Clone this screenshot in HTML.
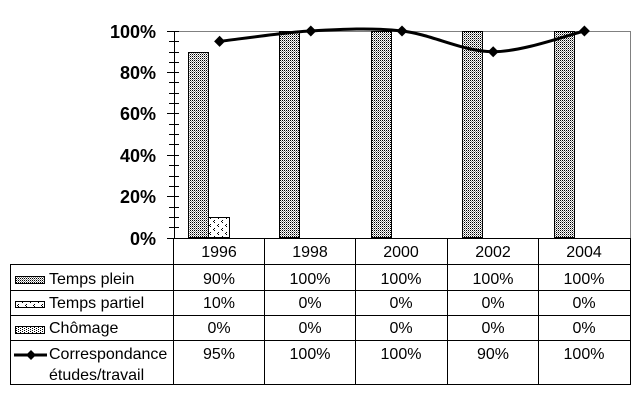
<!DOCTYPE html>
<html>
<head>
<meta charset="utf-8">
<style>
  html,body{margin:0;padding:0;background:#fff;}
  svg{display:block;}
  text{font-family:"Liberation Sans", Arial, sans-serif;}
</style>
</head>
<body>
<svg width="640" height="400" viewBox="0 0 640 400" xmlns="http://www.w3.org/2000/svg">
  <defs>
    <pattern id="pPlein" width="2" height="2" patternUnits="userSpaceOnUse">
      <rect width="2" height="2" fill="#fff"/>
      <rect x="0" y="0" width="1" height="1" fill="#000"/>
      <rect x="1" y="1" width="1" height="1" fill="#909090"/>
    </pattern>
    <pattern id="pPartiel" width="8" height="8" patternUnits="userSpaceOnUse">
      <rect width="8" height="8" fill="#fff"/>
      <rect x="2" y="0" width="1" height="1" fill="#000"/>
      <rect x="1" y="1" width="1" height="1" fill="#000"/>
      <rect x="2" y="2" width="1" height="1" fill="#000"/>
      <rect x="6" y="4" width="1" height="1" fill="#000"/>
      <rect x="5" y="5" width="1" height="1" fill="#000"/>
      <rect x="6" y="6" width="1" height="1" fill="#000"/>
    </pattern>
    <pattern id="pChom" width="4" height="2" patternUnits="userSpaceOnUse">
      <rect width="4" height="2" fill="#fff"/>
      <rect x="0" y="0" width="1" height="1" fill="#000"/>
      <rect x="2" y="1" width="1" height="1" fill="#000"/>
    </pattern>
  </defs>

  <!-- plot area border (gray) -->
  <g shape-rendering="crispEdges">
    <line x1="174" y1="31.5" x2="630" y2="31.5" stroke="#808080" stroke-width="1"/>
    <line x1="630.5" y1="31" x2="630.5" y2="238" stroke="#808080" stroke-width="1"/>
  </g>

  <!-- bars -->
  <g shape-rendering="crispEdges" stroke="#000" stroke-width="1">
    <rect x="188.5" y="52.5" width="20" height="185" fill="url(#pPlein)"/>
    <rect x="208.5" y="217.5" width="21" height="20" fill="url(#pPartiel)"/>
    <rect x="279.5" y="31.5" width="20" height="206" fill="url(#pPlein)"/>
    <rect x="371.5" y="31.5" width="20" height="206" fill="url(#pPlein)"/>
    <rect x="462.5" y="31.5" width="20" height="206" fill="url(#pPlein)"/>
    <rect x="554.5" y="31.5" width="20" height="206" fill="url(#pPlein)"/>
  </g>

  <!-- y axis -->
  <g shape-rendering="crispEdges" stroke="#000" stroke-width="1">
    <line x1="174.5" y1="31" x2="174.5" y2="238"/>
    <line x1="167" y1="31.5" x2="179" y2="31.5"/>
    <line x1="167" y1="72.5" x2="179" y2="72.5"/>
    <line x1="167" y1="113.5" x2="179" y2="113.5"/>
    <line x1="167" y1="155.5" x2="179" y2="155.5"/>
    <line x1="167" y1="196.5" x2="179" y2="196.5"/>
    <line x1="169" y1="41.5" x2="179" y2="41.5"/>
    <line x1="169" y1="52.5" x2="179" y2="52.5"/>
    <line x1="169" y1="62.5" x2="179" y2="62.5"/>
    <line x1="169" y1="82.5" x2="179" y2="82.5"/>
    <line x1="169" y1="93.5" x2="179" y2="93.5"/>
    <line x1="169" y1="103.5" x2="179" y2="103.5"/>
    <line x1="169" y1="124.5" x2="179" y2="124.5"/>
    <line x1="169" y1="134.5" x2="179" y2="134.5"/>
    <line x1="169" y1="144.5" x2="179" y2="144.5"/>
    <line x1="169" y1="165.5" x2="179" y2="165.5"/>
    <line x1="169" y1="176.5" x2="179" y2="176.5"/>
    <line x1="169" y1="186.5" x2="179" y2="186.5"/>
    <line x1="169" y1="207.5" x2="179" y2="207.5"/>
    <line x1="169" y1="217.5" x2="179" y2="217.5"/>
    <line x1="169" y1="227.5" x2="179" y2="227.5"/>
  </g>

  <!-- y labels -->
  <g font-size="18" font-weight="bold" text-anchor="end" fill="#000">
    <text x="156" y="38">100%</text>
    <text x="156" y="79">80%</text>
    <text x="156" y="120">60%</text>
    <text x="156" y="162">40%</text>
    <text x="156" y="203">20%</text>
    <text x="156" y="245">0%</text>
  </g>

  <!-- line series -->
  <path d="M219.6,41.35 C234.8,39.6 295.6,31 310.8,31 C341.2,29.28 371.6,27.55 402,31 C432.4,34.45 462.8,51.7 493.2,51.7 C523.6,51.7 569.2,34.45 584.4,31"
        fill="none" stroke="#000" stroke-width="3" stroke-linejoin="round"/>
  <g fill="#000">
    <polygon points="219.6,35.8 225.1,41.35 219.6,46.9 214.1,41.35"/>
    <polygon points="310.8,25.5 316.3,31 310.8,36.5 305.3,31"/>
    <polygon points="402,25.5 407.5,31 402,36.5 396.5,31"/>
    <polygon points="493.2,46.2 498.7,51.7 493.2,57.2 487.7,51.7"/>
    <polygon points="584.4,25.5 589.9,31 584.4,36.5 578.9,31"/>
  </g>

  <!-- data table -->
  <g shape-rendering="crispEdges" stroke="#000" stroke-width="1">
    <line x1="167" y1="238.5" x2="631" y2="238.5"/>
    <line x1="10" y1="264.5" x2="631" y2="264.5"/>
    <line x1="10" y1="290.5" x2="631" y2="290.5"/>
    <line x1="10" y1="315.5" x2="631" y2="315.5"/>
    <line x1="10" y1="340.5" x2="631" y2="340.5"/>
    <line x1="10" y1="384.5" x2="631" y2="384.5"/>
    <line x1="10.5" y1="264" x2="10.5" y2="385"/>
    <line x1="173.5" y1="238" x2="173.5" y2="385"/>
    <line x1="264.5" y1="238" x2="264.5" y2="385"/>
    <line x1="355.5" y1="238" x2="355.5" y2="385"/>
    <line x1="447.5" y1="238" x2="447.5" y2="385"/>
    <line x1="538.5" y1="238" x2="538.5" y2="385"/>
    <line x1="630.5" y1="238" x2="630.5" y2="385"/>
  </g>

  <g font-size="16" text-anchor="middle" fill="#000">
    <text x="219" y="257">1996</text>
    <text x="310" y="257">1998</text>
    <text x="401" y="257">2000</text>
    <text x="493" y="257">2002</text>
    <text x="584" y="257">2004</text>

    <text x="219" y="284">90%</text>
    <text x="310" y="284">100%</text>
    <text x="401" y="284">100%</text>
    <text x="493" y="284">100%</text>
    <text x="584" y="284">100%</text>

    <text x="219" y="308">10%</text>
    <text x="310" y="308">0%</text>
    <text x="401" y="308">0%</text>
    <text x="493" y="308">0%</text>
    <text x="584" y="308">0%</text>

    <text x="219" y="333">0%</text>
    <text x="310" y="333">0%</text>
    <text x="401" y="333">0%</text>
    <text x="493" y="333">0%</text>
    <text x="584" y="333">0%</text>

    <text x="219" y="359">95%</text>
    <text x="310" y="359">100%</text>
    <text x="401" y="359">100%</text>
    <text x="493" y="359">90%</text>
    <text x="584" y="359">100%</text>
  </g>

  <!-- legend keys -->
  <g shape-rendering="crispEdges" stroke="#000" stroke-width="1">
    <rect x="15.5" y="276.5" width="29" height="7" fill="url(#pPlein)"/>
    <rect x="15.5" y="301.5" width="29" height="6" fill="url(#pPartiel)"/>
    <rect x="15.5" y="326.5" width="29" height="7" fill="url(#pChom)"/>
  </g>
  <line x1="14" y1="355" x2="47" y2="355" stroke="#000" stroke-width="3"/>
  <polygon points="31,350 36,355 31,360 26,355" fill="#000"/>

  <g font-size="16" fill="#000">
    <text x="49" y="284">Temps plein</text>
    <text x="49" y="308">Temps partiel</text>
    <text x="49" y="333">Chômage</text>
    <text x="49" y="359">Correspondance</text>
    <text x="49" y="380">études/travail</text>
  </g>
</svg>
</body>
</html>
